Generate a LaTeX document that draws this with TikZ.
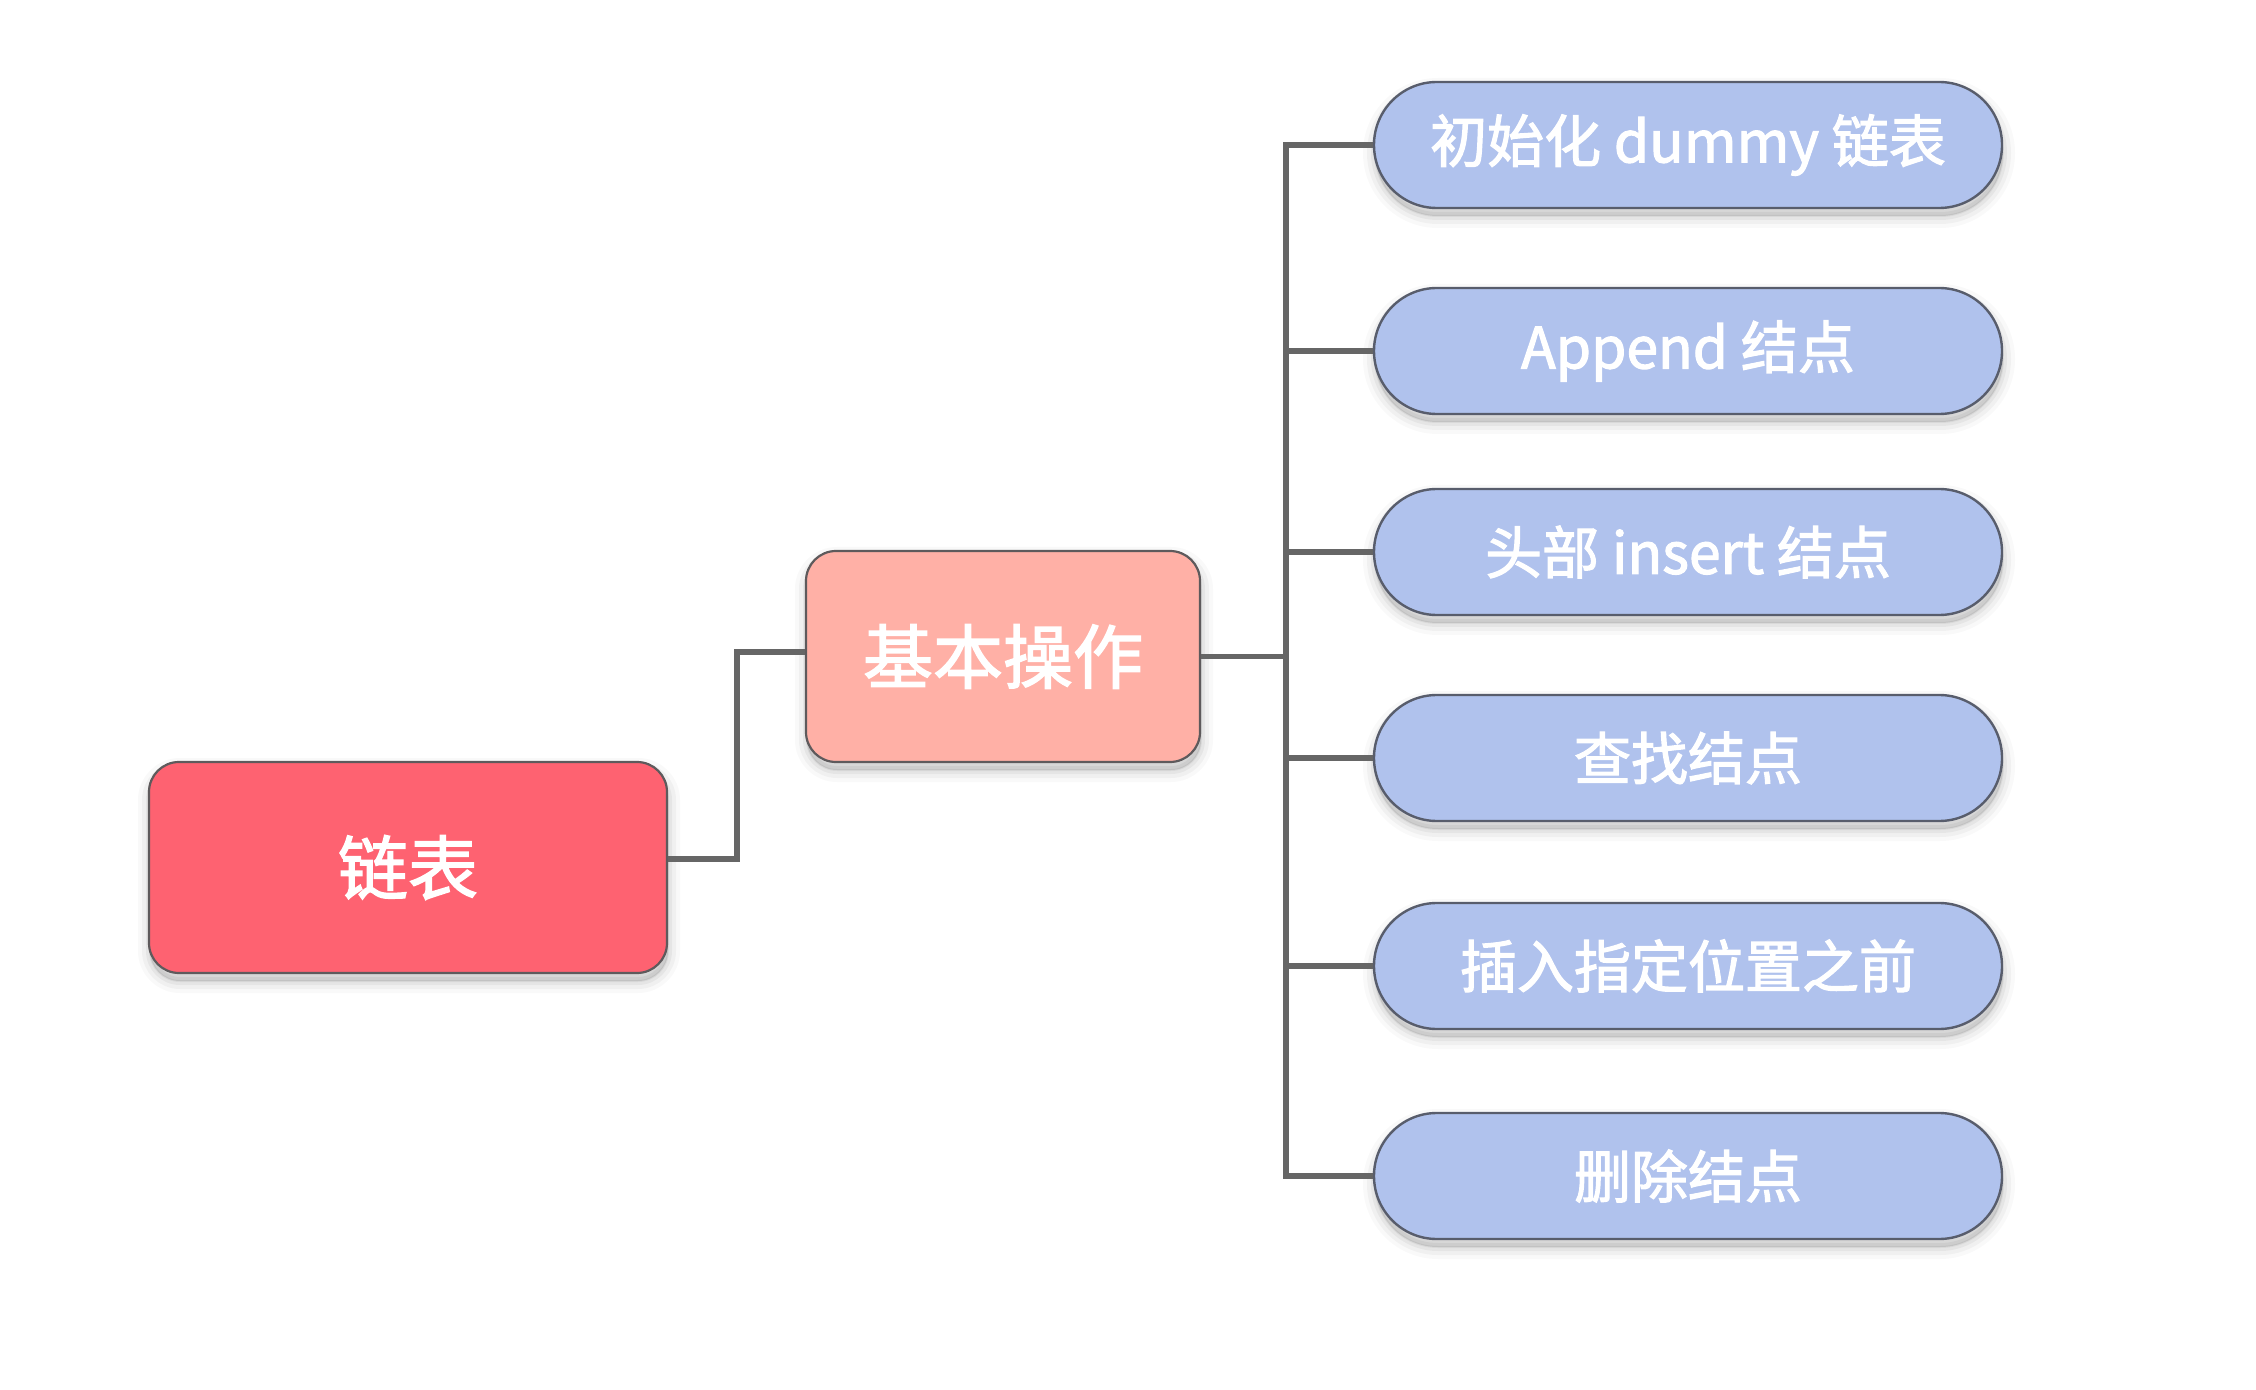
\documentclass[tikz,border=0pt]{standalone}
\usepackage{fontspec}
\setmainfont{Noto Sans CJK SC}
\newfontfamily\medfont{Noto Sans CJK SC}[FakeBold=2]
\usetikzlibrary{shadows,calc}
\definecolor{rootfill}{HTML}{FE6271}
\definecolor{opsfill}{HTML}{FFB0A6}
\definecolor{leaffill}{HTML}{B0C2ED}
\definecolor{boxline}{HTML}{5E5A5C}
\definecolor{leafline}{HTML}{585D6C}
\definecolor{connline}{HTML}{666666}
\begin{document}
\begin{tikzpicture}[x=0.5pt,y=-0.5pt,
  softshadow/.style={
    general shadow={draw=black,draw opacity=0.025,line width=12pt,shadow yshift=-4pt,shadow xshift=0.5pt},
    general shadow={draw=black,draw opacity=0.035,line width=8pt,shadow yshift=-4pt,shadow xshift=0.5pt},
    general shadow={draw=black,draw opacity=0.045,line width=4pt,shadow yshift=-4pt,shadow xshift=0.5pt},
    general shadow={draw=black,draw opacity=0.05,line width=1pt,fill=black,fill opacity=0.1,shadow yshift=-4pt,shadow xshift=0.5pt}},
  bigbox/.style={draw=boxline,line width=1.1pt,rounded corners=15pt,
    minimum height=105.5pt,text=white,inner sep=0pt,softshadow,
    font=\medfont\fontsize{35pt}{40pt}\selectfont},
  leaf/.style={draw=leafline,fill=leaffill,line width=1.2pt,rounded corners=31.4pt,
    minimum width=314pt,minimum height=63pt,text=white,inner sep=0pt,softshadow,
    font=\medfont\fontsize{28.5pt}{34pt}\selectfont},
  conn/.style={draw=connline,line width=2.8pt}]
\useasboundingbox[fill=white] (0,0) rectangle (2256,1390);

\coordinate (m1) at (737,760);
\coordinate (tx) at (1286,656.5);

\node[bigbox,fill=rootfill,minimum width=259pt] (root) at (408,867.5) {链表};
\node[bigbox,fill=opsfill,minimum width=197pt] (ops) at (1003,656.5) {基本操作};

\node[leaf] (p1) at (1688,145) {初始化 dummy 链表};
\node[leaf] (p2) at (1688,351) {Append 结点};
\node[leaf] (p3) at (1688,552) {头部 insert 结点};
\node[leaf] (p4) at (1688,758) {查找结点};
\node[leaf] (p5) at (1688,966) {插入指定位置之前};
\node[leaf] (p6) at (1688,1176) {删除结点};

\draw[conn] ([yshift=4.25pt]root.east) -| (m1) |- ([yshift=2.25pt]ops.west);
\draw[conn] (ops.east) -- (tx);
\draw[conn] (p1.west) -| (tx) |- (p6.west);
\draw[conn] (p2.west) -- (p2.west -| tx);
\draw[conn] (p3.west) -- (p3.west -| tx);
\draw[conn] (p4.west) -- (p4.west -| tx);
\draw[conn] (p5.west) -- (p5.west -| tx);
\end{tikzpicture}
\end{document}
